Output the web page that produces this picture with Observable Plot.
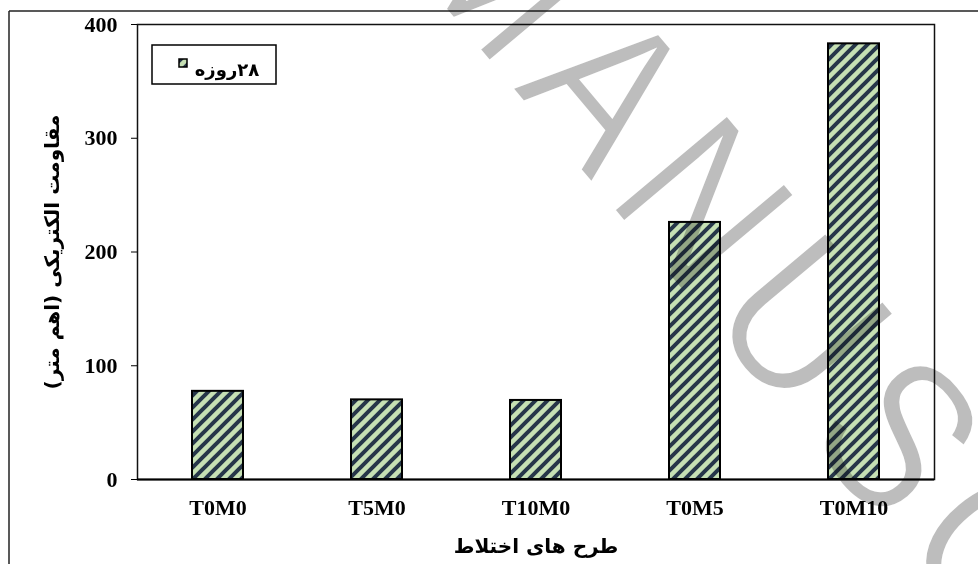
<!DOCTYPE html>
<html>
<head>
<meta charset="utf-8">
<script src="https://cdn.jsdelivr.net/npm/d3@7"></script>
<script src="https://cdn.jsdelivr.net/npm/@observablehq/plot@0.6"></script>
<style>
  html, body { margin: 0; padding: 0; background: #fff; }
  #chart { position: relative; width: 978px; height: 564px; overflow: hidden; }
</style>
</head>
<body>
<div id="chart"></div>
<script>
// Mix designs and 28-day electrical resistivity (ohm·m)
const mixes = ["T0M0", "T5M0", "T10M0", "T0M5", "T0M10"];
const resistivity28 = [77.5, 70, 69.5, 226, 383];
const yTicks = [0, 100, 200, 300, 400];
const seriesLabel = "۲۸روزه";
const yTitle = "مقاومت الکتریکی (اهم متر)";
const xTitle = "طرح های اختلاط";
const stampText = "MANUSCRIPT";

const rows = mixes.map((mix, i) => ({mix, value: resistivity28[i]}));

const serif = '"Liberation Serif", "Times New Roman", serif';
const persian = '"DejaVu Sans", sans-serif';

const chart = Plot.plot({
  width: 978,
  height: 564,
  marginLeft: 137,
  marginRight: 44,
  marginTop: 24,
  marginBottom: 85,
  style: {fontFamily: serif, fontWeight: "bold", fontSize: "22px", color: "#000", background: "#fff", overflow: "visible"},
  x: {domain: mixes, paddingInner: 0.68, paddingOuter: 0.34},
  y: {domain: [0, 400]},
  marks: [
    Plot.barY(rows, {x: "mix", y: "value", fill: "url(#stripes)", stroke: "#000", strokeWidth: 2}),
    Plot.frame({stroke: "#111", strokeWidth: 1.5}),
    Plot.ruleY([0], {stroke: "#000", strokeWidth: 2}),
    Plot.axisY({ticks: yTicks, tickSize: 6, tickPadding: 14, tickFormat: d => d, label: null, fontSize: 22}),
    Plot.axisX({tickSize: 0, tickPadding: 20, label: null, fontSize: 22}),
    Plot.text([yTitle], {frameAnchor: "left", dx: -85, rotate: -90, textAnchor: "middle", lineAnchor: "middle",
      fontFamily: persian, fontSize: 20, fontWeight: "bold", fill: "#000"}),
    Plot.text([xTitle], {frameAnchor: "bottom", dy: 67, textAnchor: "middle", lineAnchor: "middle",
      fontFamily: persian, fontSize: 20, fontWeight: "bold", fill: "#000"})
  ]
});

const svg = d3.select(chart);

// Diagonal hatch fill used by the bars and the legend swatch
const defs = svg.insert("defs", ":first-child");
const pat = defs.append("pattern")
  .attr("id", "stripes")
  .attr("patternUnits", "userSpaceOnUse")
  .attr("width", 12).attr("height", 12);
pat.append("rect").attr("width", 12).attr("height", 12).attr("fill", "#c6e0b4");
pat.append("path")
  .attr("d", "M-1,13 L13,-1 M-3,3 L3,-3 M9,15 L15,9")
  .attr("stroke", "#263649").attr("stroke-width", 4).attr("fill", "none");

// Right-to-left rendering for the Persian labels
svg.selectAll("text").filter(function() { return /[\u0600-\u06FF]/.test(this.textContent); })
  .attr("direction", "rtl").attr("unicode-bidi", "embed");

// Outer figure border (left and top edges)
const border = svg.append("g").attr("stroke", "#222").attr("stroke-width", 1.5);
border.append("line").attr("x1", 9).attr("x2", 9).attr("y1", 11).attr("y2", 564);
border.append("line").attr("x1", 9).attr("x2", 978).attr("y1", 11).attr("y2", 11);

// Legend box
const legend = svg.append("g");
legend.append("rect").attr("x", 152).attr("y", 45).attr("width", 124).attr("height", 39)
  .attr("fill", "#fff").attr("stroke", "#000").attr("stroke-width", 1.5);
legend.append("rect").attr("x", 179).attr("y", 59).attr("width", 8).attr("height", 8)
  .attr("fill", "url(#stripes)").attr("stroke", "#000").attr("stroke-width", 1.5);
legend.append("text").attr("x", 227).attr("y", 70).attr("dy", "0.35em")
  .attr("text-anchor", "middle").attr("direction", "rtl")
  .attr("font-family", persian).attr("font-weight", "bold").attr("font-size", 18)
  .text(seriesLabel);

// Diagonal stamp across the figure (thin grey condensed letters, multiplied over the chart)
svg.append("text")
  .attr("transform", "translate(399,-46) rotate(50) scale(0.87,1)")
  .attr("text-anchor", "start")
  .attr("font-family", '"Liberation Sans", Arial, sans-serif')
  .attr("font-weight", "normal")
  .attr("font-size", 215)
  .attr("letter-spacing", 22)
  .attr("fill", "#bdbdbd")
  .attr("stroke", "#fff")
  .attr("stroke-width", 3)
  .style("mix-blend-mode", "multiply")
  .text(stampText);

document.getElementById("chart").appendChild(chart);
</script>
</body>
</html>
